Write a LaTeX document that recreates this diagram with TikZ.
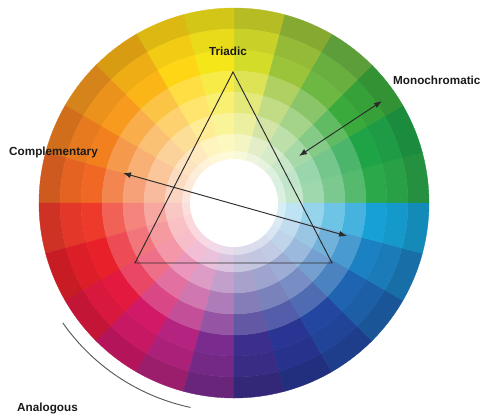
\documentclass[tikz,border=0pt]{standalone}
\usepackage{fontspec}
\setsansfont{Liberation Sans}
\usetikzlibrary{arrows.meta}
\definecolor{cink}{HTML}{1A1A1A}
\definecolor{cline}{HTML}{2B2B2B}
\definecolor{carc}{HTML}{5A5A5A}
\tikzset{
  every picture/.style={x=0.03cm, y=0.03cm},
  tag/.style={font=\sffamily\bfseries\fontsize{10}{12}\selectfont, text=cink, inner sep=0pt},
  arrow/.style={{Latex[length=2.4mm, width=1.8mm]}-{Latex[length=2.4mm, width=1.8mm]}, draw=cline, line width=0.8pt},
  tri/.style={draw=cline, line width=0.8pt, line join=miter},
}
\begin{document}
\begin{tikzpicture}
  \useasboundingbox (-234,-212) rectangle (246,203);
  % one cell of the wheel: radii r1 r2, angles a b, colour
  \newcommand{\cell}[5]{%
    \fill[#5, draw=#5, line width=0.3pt] (#3:#2) arc[start angle=#3, end angle=#4, radius=#2]
      -- (#4:#1) arc[start angle=#4, end angle=#3, radius=#1] -- cycle;}
  % 24 hues of 15 degrees, counter-clockwise from east; 7 rings each
  \foreach \h [count=\k from 0] in {2BA84A,1FA347,3AAA3C,6DB843,9CC43A,D4DC2A,F5E61A,FFD615,FBB516,F79A1E,F3801F,F06824,EE3A2B,E8202A,E3193F,D11968,B4237F,7A2B8E,3B2E8C,283593,2347A0,1E64B0,1C81C2,16A0D5}{
    \definecolor{hue}{HTML}{\h}
    \pgfmathsetmacro{\a}{15*\k}\pgfmathsetmacro{\b}{15*\k+15}
    \foreach \r/\R/\m in {174/195/hue!86!black, 153/174/hue!95!black, 132/153/hue, 111/132/hue!80!white, 90/111/hue!62!white, 69/90/hue!45!white, 44/69/hue!28!white}{
      \cell{\r}{\R}{\a}{\b}{\m}}
  }
  % white middle
  \fill[white, opacity=0.4] (0,0) circle[radius=52];
  \fill[white] (0,0) circle[radius=44];
  % triadic
  \coordinate (apex) at (-1,131);
  \coordinate (left) at (-99,-60);
  \coordinate (right) at (98,-60);
  \draw[tri] (apex) -- (left) -- (right) -- cycle;
  % complementary and monochromatic
  \coordinate (compA) at (-111,30);
  \coordinate (compB) at (113,-33);
  \draw[arrow] (compA) -- (compB);
  \coordinate (monoA) at (148,102);
  \coordinate (monoB) at (65,47);
  \draw[arrow] (monoA) -- (monoB);
  % analogous
  \draw[carc, line width=0.8pt] (215:209) arc[start angle=215, end angle=258, radius=209];
  \node[tag] (triadic) at (-6,152) {Triadic};
  \node[tag, anchor=west] (mono) at (159,123) {Monochromatic};
  \node[tag, anchor=west] (comp) at (-225,51) {Complementary};
  \node[tag, anchor=west] (analog) at (-217,-205) {Analogous};
\end{tikzpicture}
\end{document}
